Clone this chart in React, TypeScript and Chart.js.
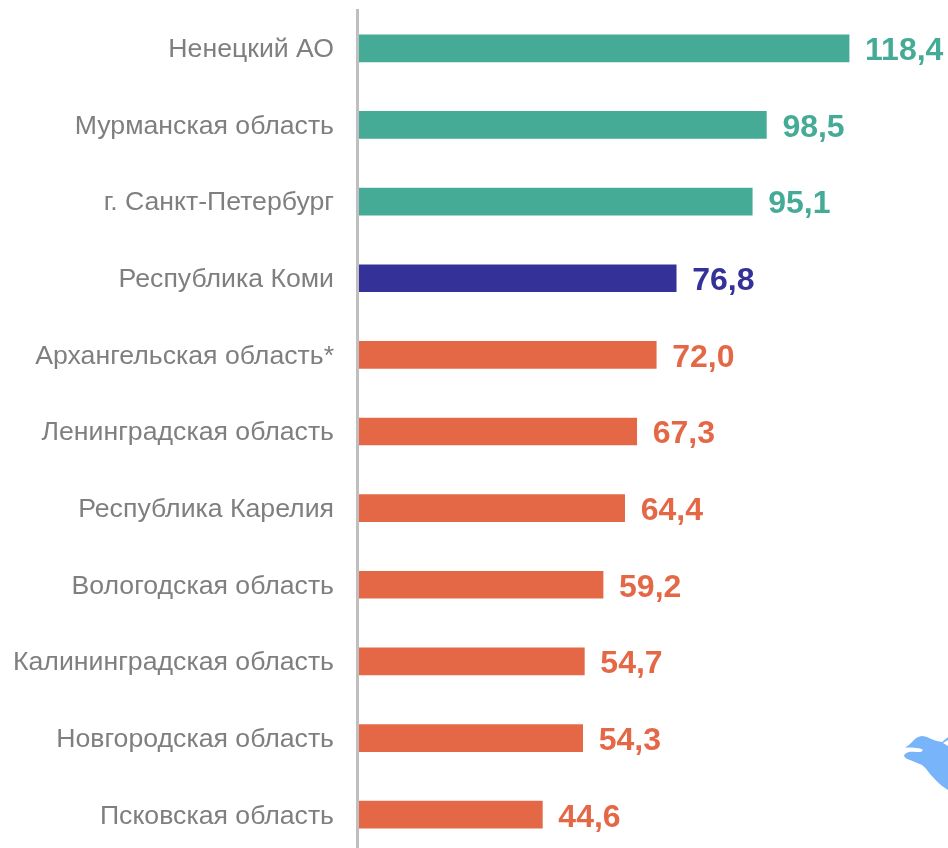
import React, { useEffect, useRef } from "react";
import { Chart, registerables } from "chart.js";

Chart.register(...registerables);

const regions = [
  "Ненецкий АО",
  "Мурманская область",
  "г. Санкт-Петербург",
  "Республика Коми",
  "Архангельская область*",
  "Ленинградская область",
  "Республика Карелия",
  "Вологодская область",
  "Калининградская область",
  "Новгородская область",
  "Псковская область",
];
const values = [118.4, 98.5, 95.1, 76.8, 72.0, 67.3, 64.4, 59.2, 54.7, 54.3, 44.6];
const TEAL = "#45AB97";
const INDIGO = "#343199";
const CORAL = "#E56846";
const barColors = [TEAL, TEAL, TEAL, INDIGO, CORAL, CORAL, CORAL, CORAL, CORAL, CORAL, CORAL];

const valueLabels = {
  id: "valueLabels",
  afterDatasetsDraw(chart: any) {
    const { ctx } = chart;
    const meta = chart.getDatasetMeta(0);
    ctx.save();
    ctx.font = 'bold 32px "Liberation Sans"';
    ctx.textAlign = "left";
    ctx.textBaseline = "middle";
    meta.data.forEach((bar: any, i: number) => {
      ctx.fillStyle = barColors[i];
      ctx.fillText(values[i].toFixed(1).replace(".", ","), bar.x + 16, bar.y + 3);
    });
    ctx.restore();
  },
};

export default function App() {
  const ref = useRef<HTMLCanvasElement>(null);
  useEffect(() => {
    const chart = new Chart(ref.current!, {
      type: "bar",
      data: {
        labels: regions,
        datasets: [
          {
            data: values,
            backgroundColor: barColors,
            barThickness: 27,
            borderWidth: 0,
          },
        ],
      },
      plugins: [valueLabels],
      options: {
        indexAxis: "y",
        animation: false,
        responsive: false,
        layout: { padding: { top: 10, bottom: 0, left: 0, right: 0 } },
        plugins: { legend: { display: false }, tooltip: { enabled: false } },
        scales: {
          x: { display: false, min: 0, max: 142.2, grid: { display: false } },
          y: {
            afterFit: (scale: any) => {
              scale.width = 357;
              scale.paddingTop = 0;
              scale.paddingBottom = 0;
              const compute = scale._computeLabelItems;
              scale._computeLabelItems = function (area: any) {
                const items = compute.call(this, area);
                items.forEach((item: any) => {
                  item.options.translation[1] += 1.5;
                });
                return items;
              };
            },
            grid: { display: false, drawTicks: false },
            border: { display: true, color: "#BFBFBF", width: 3, z: 1 },
            ticks: {
              color: "#7F7F7F",
              padding: 23,
              font: { family: '"Liberation Sans"', size: 26.67 },
              autoSkip: false,
            },
          },
        },
      },
    });
    return () => chart.destroy();
  }, []);
  return (
    <div style={{ position: "fixed", left: 0, top: 0, width: 948, height: 848, overflow: "hidden", background: "#fff" }}>
      <canvas ref={ref} width={948} height={853} style={{ display: "block" }} />
      <svg width={68} height={148} viewBox="0 0 68 148" style={{ position: "absolute", left: 880, top: 700 }}>
        <path
          d="M25 47.5 C28 46 30 44 32 42 C35 38 39 36 42 36 C47 36 52 40 57 41 L62 42 L68 37 L68 40 L63 43 L68 46 L68 90 L62 86 C57 82 54 78 50 74 C47 70 45 67 42 65 C38 63 34 62 30 60 C27 59 25 58 24 56 C24 54 26 53 29 52 C33 51 38 52.5 41 52 L43 50 C41 47.5 34 48 25 47.5 Z"
          fill="#78B4FA"
        />
      </svg>
    </div>
  );
}
